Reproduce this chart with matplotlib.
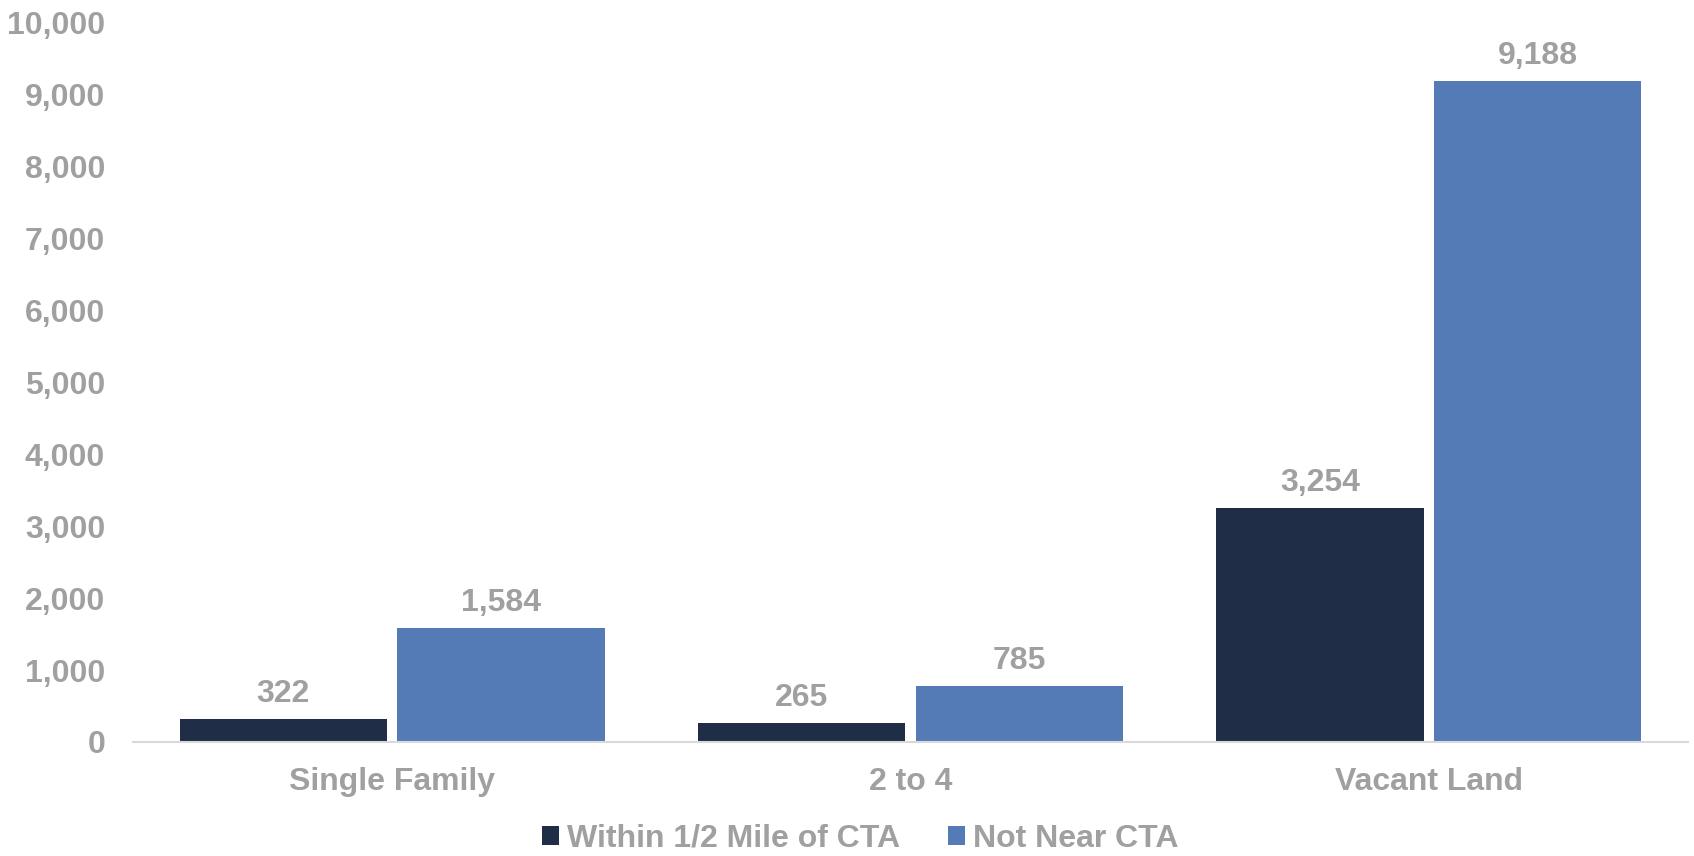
import numpy as np
import matplotlib
matplotlib.use("Agg")
import matplotlib.pyplot as plt
from matplotlib.patches import Patch
from matplotlib.ticker import FuncFormatter

# data
categories = ["Single Family", "2 to 4", "Vacant Land"]
within_cta = [322, 265, 3254]
not_near_cta = [1584, 785, 9188]
series_names = ["Within 1/2 Mile of CTA", "Not Near CTA"]

dark = "#1f2d47"
blue = "#547bb5"
grey = "#a0a0a0"

plt.rcParams["font.family"] = ["Liberation Sans", "DejaVu Sans"]
plt.rcParams["font.weight"] = "bold"

fig = plt.figure(figsize=(16.94, 8.56), dpi=100)
ax = fig.add_axes([0.0785, 0.1332, 0.918, 0.8403])

x = np.arange(len(categories))
w = 0.40
b1 = ax.bar(x - 0.21, within_cta, w, color=dark, edgecolor="none")
b2 = ax.bar(x + 0.21, not_near_cta, w, color=blue, edgecolor="none")

for bars in (b1, b2):
    for rect in bars:
        h = rect.get_height()
        ax.annotate(f"{h:,.0f}", (rect.get_x() + rect.get_width() / 2, h),
                    xytext=(0, 7), textcoords="offset points",
                    ha="center", va="bottom", fontsize=23,
                    fontweight="bold", color=grey)

ax.set_xlim(-0.5, 2.5)
ax.set_ylim(0, 10000)
ax.set_yticks(np.arange(0, 10001, 1000))
ax.yaxis.set_major_formatter(FuncFormatter(lambda v, p: f"{v:,.0f}"))
ax.set_xticks(x)
ax.set_xticklabels(categories)

ax.tick_params(axis="y", length=0, pad=20, labelsize=23, labelcolor=grey)
ax.tick_params(axis="x", length=0, pad=18, labelsize=23, labelcolor=grey)
for lab in ax.get_xticklabels() + ax.get_yticklabels():
    lab.set_fontweight("bold")

for side in ("top", "right", "left"):
    ax.spines[side].set_visible(False)
ax.spines["bottom"].set_color("#d9d9d9")
ax.spines["bottom"].set_linewidth(1.5)

handles = [Patch(facecolor=dark, edgecolor="none"),
           Patch(facecolor=blue, edgecolor="none")]
leg = fig.legend(handles, series_names, loc="center",
                 bbox_to_anchor=(0.5077, 0.020), ncol=2, frameon=False,
                 handlelength=0.53, handleheight=0.53, handletextpad=0.25,
                 columnspacing=1.5, borderpad=0,
                 prop={"weight": "bold", "size": 23})
for t in leg.get_texts():
    t.set_color(grey)

fig.savefig("out.png", dpi=100)
